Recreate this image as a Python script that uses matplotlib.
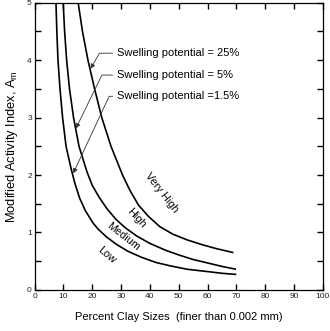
import matplotlib
matplotlib.use("Agg")
import matplotlib.pyplot as plt
from matplotlib.ticker import MultipleLocator

plt.rcParams['font.family'] = ['Liberation Sans', 'DejaVu Sans']

# boundary curves (percent clay vs modified activity index)
low_x = [7.4, 7.7, 8.1, 8.8, 9.7, 10.9, 12.7, 14.0, 15.6, 17.6, 20.2, 22.0, 25.0, 28.5,
         32.5, 37.0, 42.0, 47.0, 53.0, 60.0, 65.0, 70.0]
low_y = [5.0, 4.5, 4.0, 3.5, 3.0, 2.5, 2.1, 1.85, 1.6, 1.38, 1.17, 1.06, 0.92, 0.79,
         0.67, 0.57, 0.48, 0.42, 0.36, 0.32, 0.29, 0.27]

mid_x = [9.9, 10.4, 11.1, 12.1, 13.5, 15.4, 18.2, 20.0, 22.3, 25.0, 28.2, 31.5, 35.4,
         40.0, 45.5, 50.0, 55.0, 60.0, 65.0, 69.9]
mid_y = [5.0, 4.5, 4.0, 3.5, 3.0, 2.5, 2.05, 1.82, 1.62, 1.42, 1.23, 1.08, 0.94,
         0.81, 0.69, 0.61, 0.53, 0.47, 0.41, 0.36]

high_x = [15.1, 16.6, 18.5, 20.8, 23.3, 26.5, 30.5, 33.0, 36.0, 39.5, 43.5, 48.0, 53.0,
          58.0, 63.0, 69.0]
high_y = [5.0, 4.5, 4.0, 3.5, 3.0, 2.5, 2.0, 1.74, 1.48, 1.28, 1.10, 0.97, 0.87,
          0.79, 0.72, 0.65]

zone_names = ["Very High", "High", "Medium", "Low"]
zone_pos = [(44.2, 1.69, -52), (35.2, 1.25, -48), (30.7, 0.92, -38), (25.0, 0.61, -40)]

swell_labels = ["Swelling potential = 25%", "Swelling potential = 5%", "Swelling potential =1.5%"]
swell_text = [(28.5, 4.12), (28.5, 3.74), (28.5, 3.37)]
swell_tip = [(19.4, 3.85), (14.3, 2.81), (13.4, 2.03)]
swell_angle = [60, 64, 65]

fig = plt.figure(figsize=(3.30, 3.31), dpi=100)
ax = fig.add_axes([0.105, 0.124, 0.873, 0.868])

for xs, ys in [(low_x, low_y), (mid_x, mid_y), (high_x, high_y)]:
    ax.plot(xs, ys, color='black', lw=1.2, solid_capstyle='butt', solid_joinstyle='round')

for name, (x, y, rot) in zip(zone_names, zone_pos):
    ax.text(x, y, name, rotation=rot, ha='center', va='center', fontsize=7.8,
            rotation_mode='anchor')

for lab, (tx, ty), (px, py), ang in zip(swell_labels, swell_text, swell_tip, swell_angle):
    ax.annotate(lab, xy=(px, py), xytext=(tx, ty), fontsize=8, va='center', ha='left',
                arrowprops=dict(arrowstyle='-|>', color='#333333', lw=0.6,
                                mutation_scale=7, shrinkA=1, shrinkB=0,
                                relpos=(0, 0.5),
                                connectionstyle='angle,angleA=0,angleB=%d,rad=0' % ang))

ax.set_xlim(0, 100)
ax.set_ylim(0, 5)
ax.xaxis.set_major_locator(MultipleLocator(10))
ax.yaxis.set_major_locator(MultipleLocator(1))
ax.yaxis.set_minor_locator(MultipleLocator(0.5))
ax.tick_params(which='both', direction='in', top=True, right=True, length=4, width=1,
               labelsize=6, pad=2, labelcolor='#222222')
for s in ax.spines.values():
    s.set_linewidth(0.9)

ax.set_xlabel('Percent Clay Sizes  (finer than 0.002 mm)', fontsize=8, labelpad=9)
ax.set_ylabel('Modified Activity Index, A$_{\\mathregular{m}}$', fontsize=9.3, labelpad=5)

fig.savefig('out.png', dpi=100)
